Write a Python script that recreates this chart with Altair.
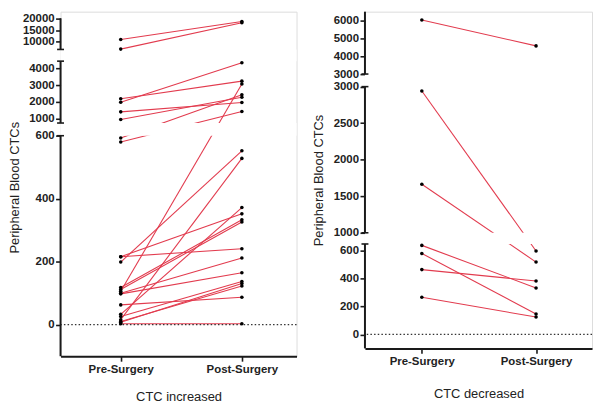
import altair as alt
import pandas as pd

stages = ["Pre-Surgery", "Post-Surgery"]

# CTC increased (paired pre / post values)
inc_pre = [10970, 6900, 2190, 1980, 1400, 940, 593, 580, 106, 199, 16, 33,
           216, 118, 112, 216, 100, 98, 26, 8, 10, 63, 3]
inc_post = [18660, 18100, 3240, 4340, 1960, 2280, 2430, 1420, 3070, 552, 528, 372,
            352, 333, 326, 241, 212, 165, 137, 131, 123, 87, 3]

# CTC decreased
dec_pre = [6030, 2940, 1665, 640, 582, 466, 268]
dec_post = [4580, 600, 520, 334, 147, 384, 125]

inc_ticks = [0, 200, 400, 600, 1000, 2000, 3000, 4000, 10000, 15000, 20000]
dec_ticks = [0, 200, 400, 600, 1000, 1500, 2000, 2500, 3000, 3001, 4000, 5000, 6000]

# broken-axis segments (data units)
inc_segments = [(-100, 600), (730, 4440), (6760, 20000)]
dec_segments = [(-100, 650), (1000, 3000), (3001, 6500)]

RED = "#e23b4e"
INK = "#1a1a1a"
FONT = "Liberation Sans"


def panel(pre, post, ticks, segments, yrange, width, height, title, title_pad,
          ytitle_pad, xpad, xalign):
    domain = [v for seg in segments for v in seg]
    long = []
    for i, (a, b) in enumerate(zip(pre, post)):
        long.append({"id": i, "stage": stages[0], "v": a})
        long.append({"id": i, "stage": stages[1], "v": b})
    df = pd.DataFrame(long)

    yscale = alt.Scale(type="linear", domain=domain, range=yrange, zero=False, nice=False)
    yaxis = alt.Axis(values=ticks, domain=False, grid=False, tickSize=5, tickWidth=1.6,
                     tickColor=INK, labelFont=FONT, labelFontSize=11.5, labelFontWeight="bold",
                     labelColor="#222", labelPadding=1.5, labelOverlap=False,
                     labelFlush=False, labelBound=False,
                     labelExpr="datum.value == 3001 ? '3000' : format(datum.value, 'd')",
                     title="Peripheral Blood CTCs", titleFont=FONT, titleFontSize=13,
                     titleFontWeight="normal", titleColor="#222", titlePadding=ytitle_pad)
    y = alt.Y("v:Q", scale=yscale, axis=yaxis)
    x = alt.X("stage:N", sort=stages,
              scale=alt.Scale(type="point", domain=stages, padding=xpad, align=xalign),
              axis=alt.Axis(labelAngle=0, domainWidth=2, domainColor=INK, tickSize=5,
                            tickWidth=1.6, tickColor=INK, labelFont=FONT, labelFontSize=11.5,
                            labelFontWeight="bold", labelColor="#222", labelPadding=2,
                            title=title, titleFont=FONT, titleFontSize=13,
                            titleFontWeight="normal", titleColor="#222",
                            titlePadding=title_pad))

    lines = alt.Chart(df).mark_line(color=RED, strokeWidth=1.1).encode(
        x=x, y=y, detail="id:N")

    gaps_df = pd.DataFrame([{"v": segments[k][1], "v2": segments[k + 1][0]}
                            for k in range(len(segments) - 1)])
    gaps = alt.Chart(gaps_df).mark_rect(color="white").encode(
        y=y, y2="v2:Q", x=alt.value(0), x2=alt.value(width))

    zero = alt.Chart(pd.DataFrame({"v": [0]})).mark_rule(
        color="#333", strokeDash=[1.5, 2.2], strokeWidth=1.3).encode(y=y)

    pts = alt.Chart(df).mark_circle(size=13, color="black", opacity=1).encode(x=x, y=y)

    seg_df = pd.DataFrame([{"v": a, "v2": b} for a, b in segments])
    axis_lines = alt.Chart(seg_df).mark_rule(color=INK, strokeWidth=2).encode(
        y=y, y2="v2:Q", x=alt.value(0))

    cap_vals = [seg[1] for seg in segments[:-1]] + [seg[0] for seg in segments[1:]]
    caps = alt.Chart(pd.DataFrame({"v": cap_vals})).mark_rule(
        color=INK, strokeWidth=1.6).encode(y=y, x=alt.value(-3.5), x2=alt.value(3.5))

    return alt.layer(lines, gaps, zero, pts, axis_lines, caps).properties(
        width=width, height=height)


left = panel(inc_pre, inc_post, inc_ticks, inc_segments,
             [347.5, 125.1, 112.3, 49.9, 38.1, 6.7], 238, 347.5,
             "CTC increased", 16.6, 1, 0.474, 0.524)
right = panel(dec_pre, dec_post, dec_ticks, dec_segments,
              [339.6, 234.3, 223.0, 75.6, 62.9, 0], 229, 339.6,
              "CTC decreased", 21.3, 8, 0.494, 0.504)

chart = alt.hconcat(left, right, spacing=13).properties(
    padding=0, autosize=alt.AutoSizeParams(type="pad")).configure_view(
    strokeWidth=0).configure(font=FONT, padding=0)

chart.save("out.html", embed_options={"renderer": "svg", "actions": False})
